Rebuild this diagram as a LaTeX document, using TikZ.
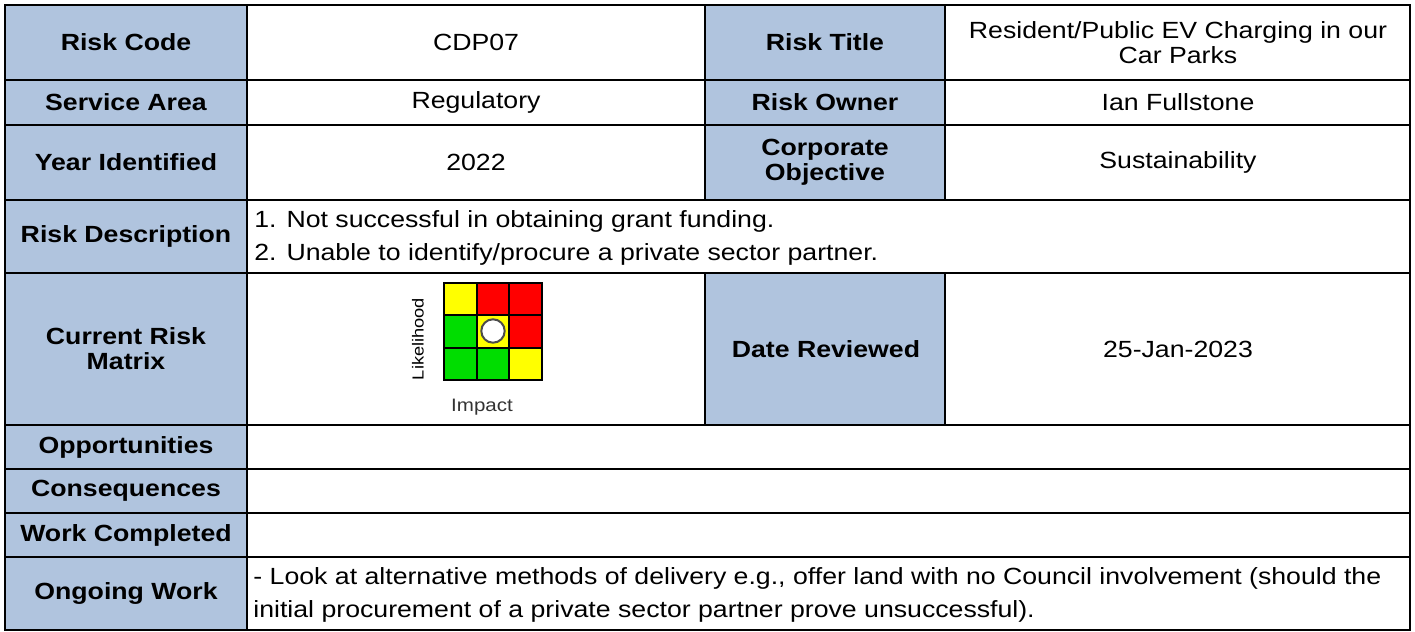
\documentclass[tikz,border=0pt]{standalone}
\usepackage{fontspec}
\setmainfont{Liberation Sans}[FakeStretch=1.14]
\usetikzlibrary{positioning, calc}
\definecolor{headblue}{RGB}{176,196,222}
\definecolor{riskgreen}{RGB}{0,221,0}
\definecolor{riskyellow}{RGB}{255,255,0}
\definecolor{riskred}{RGB}{255,0,0}

\begin{document}
\begin{tikzpicture}[x=0.5pt, y=-0.5pt,
	head/.style={font=\fontsize{11.7}{12.5}\selectfont\bfseries, align=center},
	body/.style={font=\fontsize{11.7}{12.5}\selectfont, align=center},
	bodyleft/.style={font=\fontsize{11.7}{16.5}\selectfont, align=left, anchor=west, inner sep=0pt},
	grid/.style={line width=1.4pt},
	axis/.style={font=\fontsize{9}{10}\selectfont, inner sep=0pt}]
			\useasboundingbox (0,0) rectangle (1415,632);
			
			\fill[headblue] (5,5) rectangle (247,630);
			\fill[headblue] (705,5) rectangle (945,200);
			\fill[headblue] (705,273) rectangle (945,425);
			
			\draw[grid] (5,5) rectangle (1410,630);
			\foreach \y in {80,125,200,273,425,469,513,557}
				\draw[grid] (5,\y) -- (1410,\y);
			\draw[grid] (247,5) -- (247,630);
			\draw[grid] (705,5) -- (705,200);
			\draw[grid] (945,5) -- (945,200);
			\draw[grid] (705,273) -- (705,425);
			\draw[grid] (945,273) -- (945,425);
			
			\node[head] (code) at (126,42.5) {Risk Code};
			\node[body] (codeval) at (476,42.5) {CDP07};
			\node[head] (title) at (825,42.5) {Risk Title};
			\node[body] (titleval) at (1178,42.5) {Resident/Public EV Charging in our\\Car Parks};
			\node[head] (area) at (126,102.5) {Service Area};
			\node[body] (areaval) at (476,102.5) {Regulatory};
			\node[head] (owner) at (825,102.5) {Risk Owner};
			\node[body] (ownerval) at (1178,102.5) {Ian Fullstone};
			\node[head] (year) at (126,162.5) {Year Identified};
			\node[body] (yearval) at (476,162.5) {2022};
			\node[head] (objective) at (825,162.5) {Corporate\\Objective};
			\node[body] (objectiveval) at (1178,162.5) {Sustainability};
			\node[head] (desc) at (126,236.5) {Risk Description};
			\node[bodyleft] (descval) at (254,238) {1. Not successful in obtaining grant funding.\\2. Unable to identify/procure a private sector partner.};
			\node[head] (current) at (126,349) {Current Risk\\Matrix};
			\node[head] (reviewed) at (826,349) {Date Reviewed};
			\node[body] (reviewedval) at (1178,349) {25-Jan-2023};
			\node[head] (opps) at (126,447) {Opportunities};
			\node[head] (cons) at (126,491) {Consequences};
			\node[head] (work) at (126,535) {Work Completed};
			\node[head] (ongoing) at (126,593.5) {Ongoing Work};
			\node[bodyleft] (ongoingval) at (253,595) {- Look at alternative methods of delivery e.g., offer land with no Council involvement (should the\\initial procurement of a private sector partner prove unsuccessful).};
			
			% risk matrix
			\foreach \ca/\cb/\cc [count=\r from 0] in {riskyellow/riskred/riskred, riskgreen/riskyellow/riskred, riskgreen/riskgreen/riskyellow}
				\foreach \col [count=\k from 0] in {\ca,\cb,\cc}
					\filldraw[fill=\col, line width=1pt] ({444+32.7*\k},{283+32.3*\r}) rectangle ++(32.7,32.3);
			\node[circle, draw=black!70, fill=white, line width=1pt, minimum size=11.7pt, inner sep=0pt] (rating) at (493,331) {};
			\node[axis, text=black!80] (impact) at (482,407) {Impact};
			\node[axis, font=\fontsize{8}{9}\selectfont, rotate=90] (likelihood) at (418,339) {Likelihood};
		\end{tikzpicture}
\end{document}
